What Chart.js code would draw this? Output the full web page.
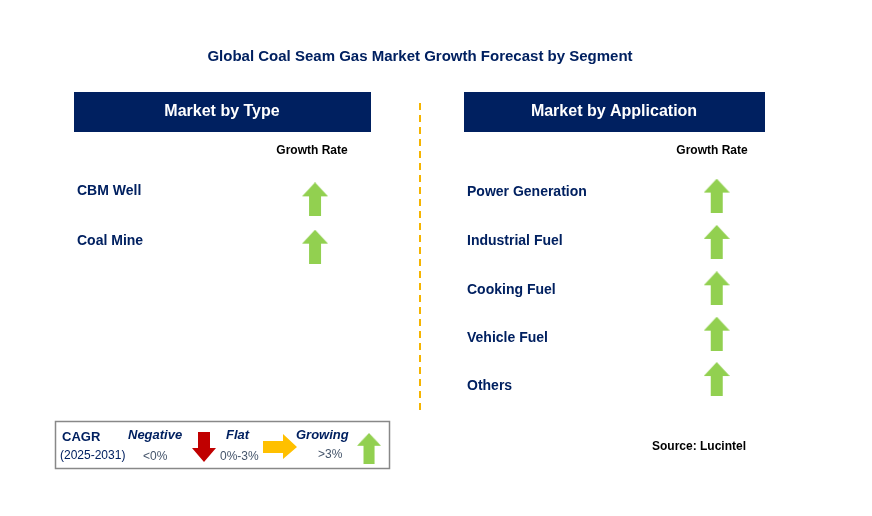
<!DOCTYPE html>
<html><head><meta charset="utf-8">
<script src="https://cdn.jsdelivr.net/npm/chart.js@4/dist/chart.umd.min.js"></script>
<style>html,body{margin:0;padding:0;background:#fff}#wrap{width:872px;height:516px}</style>
</head><body><div id="wrap"><canvas id="c" width="872" height="516"></canvas></div>
<script>
const typeCategories = ["CBM Well", "Coal Mine"];
const typeGrowth = ["growing", "growing"];
const appCategories = ["Power Generation", "Industrial Fuel", "Cooking Fuel", "Vehicle Fuel", "Others"];
const appGrowth = ["growing", "growing", "growing", "growing", "growing"];
const typeRowY = [191, 241];
const appRowY = [192, 241, 290, 338, 386];

function arrowCanvas(color, dir) {
  const c = document.createElement('canvas');
  c.width = 26; c.height = 34;
  const g = c.getContext('2d');
  g.fillStyle = color;
  g.beginPath();
  if (dir === 'up') {
    g.moveTo(13, 0); g.lineTo(26, 14); g.lineTo(19, 14); g.lineTo(19, 34);
    g.lineTo(7, 34); g.lineTo(7, 14); g.lineTo(0, 14);
  }
  g.closePath(); g.fill();
  return c;
}
const upArrow = arrowCanvas('#92D050', 'up');
const NAVY = '#002060';

const deco = {
  id: 'deco',
  beforeDatasetsDraw(chart) {
    const g = chart.ctx;
    g.save();
    g.textBaseline = 'middle';
    g.fillStyle = NAVY; g.textAlign = 'center';
    g.font = 'bold 15px Arial, "Liberation Sans"';
    g.fillText('Global Coal Seam Gas Market Growth Forecast by Segment', 420, 57);
    g.fillRect(74, 92, 297, 40); g.fillRect(464, 92, 301, 40);
    g.fillStyle = '#fff'; g.font = 'bold 16px Arial, "Liberation Sans"';
    g.fillText('Market by Type', 222, 112); g.fillText('Market by Application', 614, 112);
    g.fillStyle = '#000'; g.font = 'bold 12px Arial, "Liberation Sans"';
    g.fillText('Growth Rate', 312, 151); g.fillText('Growth Rate', 712, 151);
    g.textAlign = 'left'; g.fillStyle = NAVY; g.font = 'bold 14px Arial, "Liberation Sans"';
    typeCategories.forEach((t, i) => g.fillText(t, 77, typeRowY[i]));
    appCategories.forEach((t, i) => g.fillText(t, 467, appRowY[i]));
    g.strokeStyle = '#F5B400'; g.lineWidth = 2; g.setLineDash([7, 5]);
    g.beginPath(); g.moveTo(420, 103); g.lineTo(420, 415); g.stroke(); g.setLineDash([]);
    // legend
    g.strokeStyle = '#888'; g.lineWidth = 1.5; g.strokeRect(55.5, 421.5, 334, 47);
    g.fillStyle = NAVY; g.font = 'bold 13px Arial, "Liberation Sans"';
    g.fillText('CAGR', 62, 437);
    g.font = '12px Arial, "Liberation Sans"'; g.fillText('(2025-2031)', 60, 456);
    g.font = 'bold italic 13px Arial, "Liberation Sans"';
    g.fillText('Negative', 128, 435); g.fillText('Flat', 226, 435); g.fillText('Growing', 296, 435);
    g.fillStyle = '#44546A'; g.font = '12px Arial, "Liberation Sans"';
    g.fillText('<0%', 143, 457); g.fillText('0%-3%', 220, 457); g.fillText('>3%', 318, 455);
    // red down arrow
    g.fillStyle = '#C00000'; g.beginPath();
    g.moveTo(198, 432); g.lineTo(210, 432); g.lineTo(210, 448); g.lineTo(216, 448);
    g.lineTo(204, 462); g.lineTo(192, 448); g.lineTo(198, 448); g.closePath(); g.fill();
    // yellow right arrow
    g.fillStyle = '#FFC000'; g.beginPath();
    g.moveTo(263, 441); g.lineTo(283, 441); g.lineTo(283, 434); g.lineTo(297, 447);
    g.lineTo(283, 459); g.lineTo(283, 453); g.lineTo(263, 453); g.closePath(); g.fill();
    g.drawImage(upArrow, 357, 433, 24, 31);
    g.fillStyle = '#000'; g.font = 'bold 12px Arial, "Liberation Sans"';
    g.fillText('Source: Lucintel', 652, 447);
    g.restore();
  }
};

const pts = [];
typeGrowth.forEach((v, i) => pts.push({x: 311, y: typeRowY[i] + 5}));
appGrowth.forEach((v, i) => pts.push({x: 726, y: appRowY[i]}));

new Chart(document.getElementById('c'), {
  type: 'scatter',
  data: { datasets: [{ data: pts, pointStyle: upArrow, pointRadius: 13 }] },
  options: {
    responsive: false, animation: false, devicePixelRatio: 1,
    layout: { padding: 0 },
    plugins: { legend: { display: false }, tooltip: { enabled: false } },
    scales: {
      x: { type: 'linear', min: 0, max: 872, display: false },
      y: { type: 'linear', min: 0, max: 516, reverse: true, display: false }
    }
  },
  plugins: [deco]
});
</script></body></html>
